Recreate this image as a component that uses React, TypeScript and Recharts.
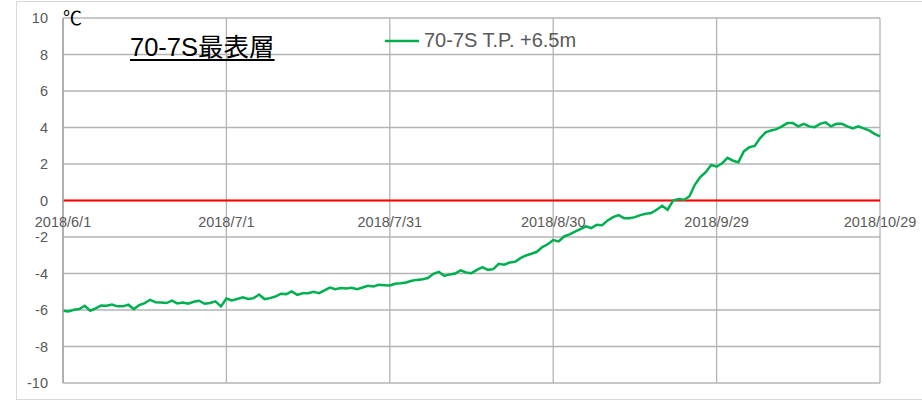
import React from "react";
import {
  LineChart,
  Line,
  XAxis,
  YAxis,
  CartesianGrid,
  ReferenceLine,
} from "recharts";

// daily readings from 2018/6/1 (index 0) to 2018/10/29 (index 150)
const temps = [
  -6.04, -6.08, -5.99, -5.95, -5.77, -6.04, -5.91, -5.75, -5.77, -5.7,
  -5.8, -5.8, -5.71, -5.95, -5.73, -5.62, -5.44, -5.57, -5.59, -5.62,
  -5.49, -5.64, -5.59, -5.66, -5.55, -5.49, -5.66, -5.62, -5.53, -5.8,
  -5.37, -5.48, -5.4, -5.31, -5.4, -5.35, -5.15, -5.4, -5.35, -5.26,
  -5.11, -5.13, -4.98, -5.17, -5.08, -5.08, -5.0, -5.08, -4.93, -4.77,
  -4.86, -4.8, -4.82, -4.78, -4.86, -4.77, -4.67, -4.71, -4.62, -4.64,
  -4.66, -4.56, -4.53, -4.49, -4.4, -4.35, -4.31, -4.25, -4.02, -3.91,
  -4.13, -4.05, -4.0, -3.83, -3.94, -3.98, -3.8, -3.65, -3.8, -3.76,
  -3.47, -3.52, -3.4, -3.36, -3.16, -3.01, -2.92, -2.81, -2.55, -2.4,
  -2.17, -2.24, -1.97, -1.86, -1.71, -1.57, -1.42, -1.51, -1.33, -1.35,
  -1.09, -0.91, -0.8, -0.97, -0.97, -0.91, -0.8, -0.73, -0.69, -0.51,
  -0.29, -0.51, 0.0, 0.08, 0.04, 0.22, 0.86, 1.28, 1.55, 1.95,
  1.85, 2.04, 2.34, 2.18, 2.1, 2.69, 2.92, 2.99, 3.42, 3.73,
  3.84, 3.91, 4.06, 4.24, 4.24, 4.06, 4.2, 4.06, 4.02, 4.2,
  4.28, 4.06, 4.2, 4.2, 4.06, 3.95, 4.06, 3.95, 3.84, 3.65,
  3.51,
];

const dateTicks = [0, 30, 60, 90, 120, 150];
const dateLabels = [
  "2018/6/1",
  "2018/7/1",
  "2018/7/31",
  "2018/8/30",
  "2018/9/29",
  "2018/10/29",
];
const yTicks = [-10, -8, -6, -4, -2, 0, 2, 4, 6, 8, 10];

const seriesName = "70-7S T.P. +6.5m";
const title = "70-7S最表層";

const W = 922;
const H = 405;
const X_AXIS_H = 22;
const MARGIN = { top: 18, right: 42, bottom: 0, left: 0 };
const Y_MIN = -10;
const Y_MAX = 10;
const PLOT_BOTTOM = H - MARGIN.bottom - X_AXIS_H;
const PLOT_H = PLOT_BOTTOM - MARGIN.top;
const ZERO_Y = MARGIN.top + (PLOT_H * Y_MAX) / (Y_MAX - Y_MIN);

const FONT = "'Liberation Sans', Arial, sans-serif";
const GREEN = "#00b050";
const GREY_TEXT = "#595959";

const chartData = temps.map((t, i) => ({ day: i, temp: t }));

// the date labels sit just under the 0 line, like an axis crossing at zero
const renderDateTick = (props: any) => {
  const { x, payload } = props;
  const idx = dateTicks.indexOf(payload.value);
  return (
    <text
      key={`dt-${payload.value}`}
      x={x}
      y={ZERO_Y + 26}
      textAnchor="middle"
      fill={GREY_TEXT}
      fontSize={14.5}
      fontFamily={FONT}
    >
      {idx >= 0 ? dateLabels[idx] : ""}
    </text>
  );
};

export default function App() {
  return (
    <div style={{ position: "relative", width: W, height: H, overflow: "hidden" }}>
      <style>{"body{margin:0;}"}</style>
      <div
        style={{
          position: "absolute",
          left: 16,
          top: 1,
          width: W,
          height: 399,
          border: "1px solid #d9d9d9",
          boxSizing: "border-box",
        }}
      />
      <LineChart width={W} height={H} data={chartData} margin={MARGIN}>
        <CartesianGrid stroke="#b4b4b4" strokeWidth={1.3} />
        <XAxis
          dataKey="day"
          type="number"
          domain={[0, 150]}
          ticks={dateTicks}
          height={X_AXIS_H}
          axisLine={false}
          tickLine={false}
          tick={renderDateTick}
          interval={0}
        />
        <YAxis
          type="number"
          domain={[Y_MIN, Y_MAX]}
          ticks={yTicks}
          width={63}
          interval={0}
          tickLine={false}
          tickSize={0}
          tickMargin={15}
          axisLine={{ stroke: "#a6a6a6", strokeWidth: 1.5 }}
          tick={{ fill: GREY_TEXT, fontSize: 14.5, fontFamily: FONT }}
        />
        <ReferenceLine y={0} stroke="#ff0000" strokeWidth={2} />
        <Line
          type="linear"
          dataKey="temp"
          name={seriesName}
          stroke={GREEN}
          strokeWidth={2.5}
          dot={false}
          isAnimationActive={false}
        />
      </LineChart>
      <div
        style={{
          position: "absolute",
          left: 385,
          top: 29,
          display: "flex",
          alignItems: "center",
          whiteSpace: "nowrap",
        }}
      >
        <svg width={34} height={4} style={{ marginRight: 5 }}>
          <line x1={0} y1={2} x2={34} y2={2} stroke={GREEN} strokeWidth={2.5} />
        </svg>
        <span style={{ color: GREY_TEXT, fontSize: 20, fontFamily: FONT }}>
          {seriesName}
        </span>
      </div>
      <div
        style={{
          position: "absolute",
          left: 63,
          top: 5,
          fontSize: 19,
          lineHeight: "24px",
          fontFamily: "'Noto Sans CJK JP', sans-serif",
          color: "#000",
        }}
      >
        ℃
      </div>
      <div
        style={{
          position: "absolute",
          left: 130,
          top: 26,
          fontSize: 25.5,
          fontFamily: `${FONT}, 'Noto Sans CJK JP'`,
          color: "#000",
          textDecoration: "underline",
          textUnderlineOffset: 3,
          whiteSpace: "nowrap",
        }}
      >
        {title}
      </div>
    </div>
  );
}
